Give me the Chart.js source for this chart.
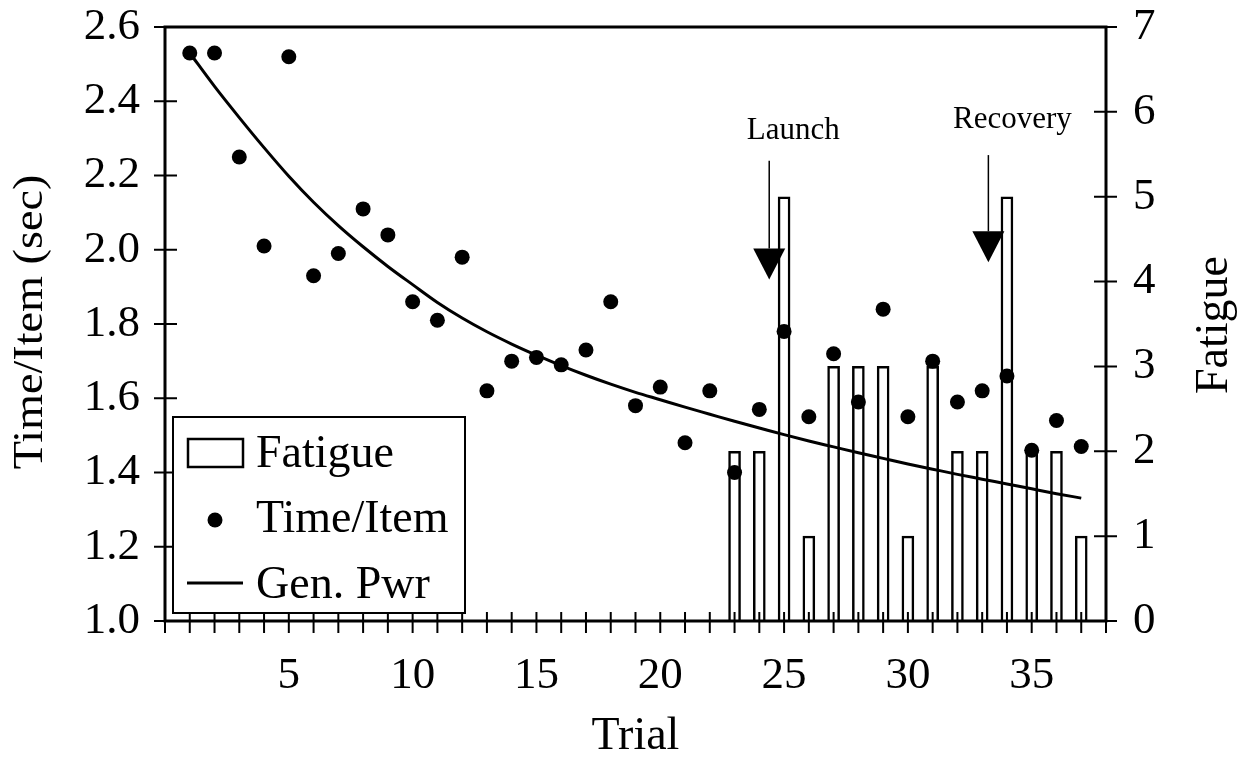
<!DOCTYPE html>
<html>
<head>
<meta charset="utf-8">
<title>Time/Item and Fatigue by Trial</title>
<script src="https://cdn.jsdelivr.net/npm/chart.js@4.4.1/dist/chart.umd.min.js"></script>
<style>
  html, body { margin: 0; padding: 0; background: #fff; }
  canvas { display: block; }
</style>
</head>
<body>
<canvas id="trialChart" width="1245" height="761"></canvas>
<script>
// trials 1..37, seconds per item
const trials = [1, 2, 3, 4, 5, 6, 7, 8, 9, 10, 11, 12, 13, 14, 15, 16, 17, 18, 19,
    20, 21, 22, 23, 24, 25, 26, 27, 28, 29, 30, 31, 32, 33, 34, 35, 36, 37];
const timePerItem = [2.53, 2.53, 2.25, 2.01, 2.52, 1.93, 1.99, 2.11, 2.04, 1.86,
    1.81, 1.98, 1.62, 1.70, 1.71, 1.69, 1.73, 1.86, 1.58, 1.63, 1.48, 1.62, 1.40,
    1.57, 1.78, 1.55, 1.72, 1.59, 1.84, 1.55, 1.70, 1.59, 1.62, 1.66, 1.46, 1.54, 1.47];
// generalized power fit, read at each trial
const genPwr = [2.530, 2.440, 2.356, 2.275, 2.198, 2.128, 2.065, 2.008, 1.955, 1.906,
    1.858, 1.816, 1.779, 1.746, 1.716, 1.688, 1.662, 1.638, 1.616, 1.596, 1.576,
    1.557, 1.538, 1.520, 1.502, 1.485, 1.469, 1.453, 1.438, 1.423, 1.409, 1.395,
    1.382, 1.369, 1.356, 1.343, 1.331];

// fatigue ratings were only taken from trial 23 on
const fatigueTrials = [23, 24, 25, 26, 27, 28, 29, 30, 31, 32, 33, 34, 35, 36, 37];
const fatigue = [2, 2, 5, 1, 3, 3, 3, 1, 3, 2, 2, 5, 2, 2, 1];

const xTicks = [5, 10, 15, 20, 25, 30, 35];

// event markers: trial position, label and arrow extent on the time axis
const events = [
    { label: 'Launch', trial: 24.4, textAt: 2.32, from: 2.24, tip: 1.92 },
    { label: 'Recovery', trial: 33.25, textAt: 2.35, from: 2.255, tip: 1.966 }
];

const SERIF = '"Liberation Serif", "Times New Roman", serif';
Chart.defaults.font.family = SERIF;
Chart.defaults.color = '#000';

const pts = (xs, ys) => xs.map((x, i) => ({ x: x, y: ys[i] }));

// the outer tick labels may overhang; keep the plot top at 27px
const fitVertical = width => s => {
    s.width = width;
    s.paddingTop = 27;
    s.paddingBottom = 27;
};

// box, tick marks and plot border
const axisFrame = {
    id: 'axisFrame',
    afterDatasetsDraw(chart) {
        const { ctx, chartArea: a, scales } = chart;
        ctx.save();
        ctx.strokeStyle = '#000';
        ctx.lineWidth = 3;
        ctx.strokeRect(a.left, a.top, a.right - a.left, a.bottom - a.top);
        ctx.lineWidth = 2;
        ctx.beginPath();
        scales.x.ticks.forEach(t => {
            const x = scales.x.getPixelForValue(t.value);
            ctx.moveTo(x, a.bottom - 9);
            ctx.lineTo(x, a.bottom + 12);
        });
        scales.y.ticks.forEach(t => {
            const y = scales.y.getPixelForValue(t.value);
            ctx.moveTo(a.left - 11, y);
            ctx.lineTo(a.left + 12, y);
        });
        scales.y2.ticks.forEach(t => {
            const y = scales.y2.getPixelForValue(t.value);
            ctx.moveTo(a.right - 12, y);
            ctx.lineTo(a.right + 11, y);
        });
        ctx.stroke();
        ctx.restore();
    }
};

// axis titles (the right one reads bottom to top as well)
const axisTitles = {
    id: 'axisTitles',
    afterDraw(chart) {
        const { ctx, chartArea: a } = chart;
        ctx.save();
        ctx.fillStyle = '#000';
        ctx.textAlign = 'center';
        ctx.textBaseline = 'middle';
        ctx.font = '46px ' + SERIF;
        ctx.fillText('Trial', (a.left + a.right) / 2, 737);
        // [x, y, text, font size, stretch along the text]
        [[31, 322, 'Time/Item (sec)', 42, 1.1], [1215, 325, 'Fatigue', 46, 1]].forEach(([x, y, text, size, stretch]) => {
            ctx.save();
            ctx.font = size + 'px ' + SERIF;
            ctx.translate(x, y);
            ctx.rotate(-Math.PI / 2);
            ctx.scale(stretch, 1);
            ctx.fillText(text, 0, 0);
            ctx.restore();
        });
        ctx.restore();
    }
};

// Launch / Recovery arrows
const eventArrows = {
    id: 'eventArrows',
    afterDatasetsDraw(chart) {
        const { ctx, scales } = chart;
        ctx.save();
        ctx.fillStyle = '#000';
        ctx.strokeStyle = '#000';
        ctx.font = '31px ' + SERIF;
        ctx.textAlign = 'center';
        ctx.textBaseline = 'middle';
        events.forEach(ev => {
            const x = scales.x.getPixelForValue(ev.trial);
            const yText = scales.y.getPixelForValue(ev.textAt);
            const yFrom = scales.y.getPixelForValue(ev.from);
            const yTip = scales.y.getPixelForValue(ev.tip);
            const head = 31;
            ctx.fillText(ev.label, x + 24, yText);
            ctx.lineWidth = 1.5;
            ctx.beginPath();
            ctx.moveTo(x, yFrom);
            ctx.lineTo(x, yTip - head);
            ctx.stroke();
            ctx.beginPath();
            ctx.moveTo(x - 16, yTip - head);
            ctx.lineTo(x + 16, yTip - head);
            ctx.lineTo(x, yTip);
            ctx.closePath();
            ctx.fill();
        });
        ctx.restore();
    }
};

// boxed legend sitting inside the lower left of the plot
const boxLegend = {
    id: 'boxLegend',
    afterDraw(chart) {
        const { ctx } = chart;
        const left = 173, top = 417, right = 465, bottom = 613;
        ctx.save();
        ctx.fillStyle = '#fff';
        ctx.fillRect(left, top, right - left, bottom - top);
        ctx.strokeStyle = '#000';
        ctx.lineWidth = 2;
        ctx.strokeRect(left, top, right - left, bottom - top);

        ctx.lineWidth = 2.5;
        ctx.strokeRect(188, 439, 55, 28);
        ctx.fillStyle = '#000';
        ctx.beginPath();
        ctx.arc(215, 520, 7.5, 0, Math.PI * 2);
        ctx.fill();
        ctx.lineWidth = 3;
        ctx.beginPath();
        ctx.moveTo(187, 583);
        ctx.lineTo(243, 583);
        ctx.stroke();

        ctx.font = '46px ' + SERIF;
        ctx.textAlign = 'left';
        ctx.textBaseline = 'alphabetic';
        ctx.fillText('Fatigue', 256, 467);
        ctx.fillText('Time/Item', 256, 532);
        ctx.fillText('Gen. Pwr', 256, 598);
        ctx.restore();
    }
};

new Chart(document.getElementById('trialChart'), {
    type: 'bar',
    data: {
        datasets: [
            {
                type: 'line',
                label: 'Time/Item',
                data: pts(trials, timePerItem),
                yAxisID: 'y',
                showLine: false,
                pointRadius: 7.5,
                pointBackgroundColor: '#000',
                pointBorderWidth: 0,
                order: 1
            },
            {
                type: 'line',
                label: 'Gen. Pwr',
                data: pts(trials, genPwr),
                yAxisID: 'y',
                borderColor: '#000',
                borderWidth: 3,
                pointRadius: 0,
                cubicInterpolationMode: 'monotone',
                fill: false,
                order: 2
            },
            {
                type: 'bar',
                label: 'Fatigue',
                data: pts(fatigueTrials, fatigue),
                yAxisID: 'y2',
                backgroundColor: '#fff',
                borderColor: '#000',
                borderWidth: 2.5,
                barThickness: 12,
                order: 3
            }
        ]
    },
    options: {
        responsive: false,
        animation: false,
        layout: { padding: 0 },
        plugins: {
            legend: { display: false },
            tooltip: { enabled: false }
        },
        scales: {
            x: {
                type: 'linear',
                min: 0,
                max: 38,
                offset: false,
                grid: { display: false, drawTicks: false },
                border: { display: false },
                ticks: {
                    stepSize: 1,
                    autoSkip: false,
                    maxRotation: 0,
                    padding: 28,
                    font: { size: 45 },
                    callback: v => xTicks.includes(v) ? String(v) : ''
                },
                afterFit: s => { s.height = 140; }
            },
            y: {
                position: 'left',
                min: 1.0,
                max: 2.6,
                grid: { display: false, drawTicks: false },
                border: { display: false },
                ticks: {
                    stepSize: 0.2,
                    padding: 25,
                    font: { size: 45 },
                    callback: v => v.toFixed(1)
                },
                afterFit: fitVertical(165)
            },
            y2: {
                position: 'right',
                min: 0,
                max: 7,
                grid: { display: false, drawTicks: false },
                border: { display: false },
                ticks: {
                    stepSize: 1,
                    padding: 27,
                    font: { size: 45 }
                },
                afterFit: fitVertical(139)
            }
        }
    },
    plugins: [axisFrame, eventArrows, axisTitles, boxLegend]
});
</script>
</body>
</html>
